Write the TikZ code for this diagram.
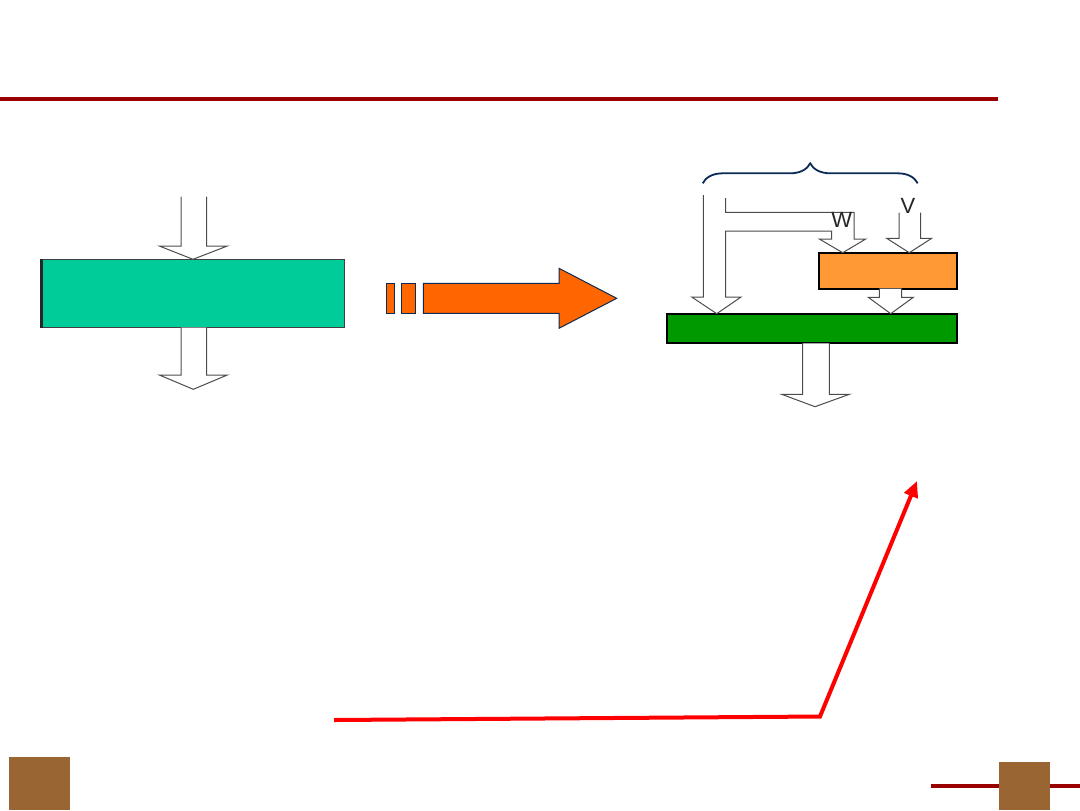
\documentclass[tikz,border=0pt]{standalone}
\usepackage{fontspec}
\setmainfont{Liberation Sans}
\usetikzlibrary{decorations.pathreplacing,arrows.meta}
\definecolor{rule}{HTML}{990000}
\definecolor{brownsq}{HTML}{996633}
\definecolor{teal}{HTML}{00CC99}
\definecolor{orangeA}{HTML}{FF6600}
\definecolor{orangeB}{HTML}{FF9933}
\definecolor{greenB}{HTML}{009900}
\definecolor{navy}{HTML}{0B2A55}
\tikzset{
  box/.style={draw=black, line width=0.9pt, inner sep=0pt, outer sep=0pt},
  blockarrow/.style={draw=black!70, fill=white, line width=0.5pt, line join=miter},
  flowarrow/.style={draw=navy, fill=orangeA, line width=0.5pt},
  lbl/.style={font=\fontsize{11pt}{12pt}\selectfont, text=black!85, inner sep=0pt}
}
\begin{document}
\begin{tikzpicture}[x=0.5pt,y=-0.5pt]
\useasboundingbox (0,0) rectangle (1080,810);
% frame decorations
\draw[rule, line width=2pt] (0,99) -- (998,99);
\draw[rule, line width=2pt] (931,785.5) -- (1080,785.5);
\fill[brownsq] (9,757) rectangle (70,810);
\fill[brownsq] (999,762) rectangle (1050,810);

% left diagram
\node[box, draw=black!75, line width=0.6pt, fill=teal, minimum width=151.3pt, minimum height=34.2pt] (teal) at (193,293.5) {};
\draw[black!85, line width=1.6pt] (teal.south west) -- (teal.north west);
\draw[blockarrow] (181,196.7) -- (181,246) -- (159.3,246) -- (teal.north) -- (227.3,246) -- (206.7,246) -- (206.7,196.7);
\coordinate (tealout) at (193.3,389.3);
\draw[blockarrow] (181,327.7) -- (181,375) -- (159.3,375) -- (tealout) -- (227.3,375) -- (206.7,375) -- (206.7,327.7);

% middle arrow
\draw[flowarrow] (386.7,283.3) rectangle (394,313.3);
\draw[flowarrow] (401.7,283.3) rectangle (415.7,313.3);
\draw[flowarrow] (423.3,283.3) -- (559,283.3) -- (559,268.3) -- (616.7,298.3) -- (559,328.3) -- (559,313.3) -- (423.3,313.3) -- cycle;

% right diagram
\node[box, fill=orangeB, minimum width=69pt, minimum height=18pt] (orng) at (888.3,270.7) {};
\node[box, fill=greenB, minimum width=145.3pt, minimum height=14.8pt] (grn) at (812,328.5) {};

\coordinate (braceL) at (702.7,183.3);
\coordinate (braceR) at (917.7,183.3);
\draw[navy, line width=0.9pt, decorate, decoration={brace, amplitude=10pt}] (braceL) -- (braceR);

% L-shaped arrow into green and W branch into orange
\coordinate (Ltip) at (716.7,313.7);
\coordinate (Wtip) at (842.7,252.7);
\draw[blockarrow] (703.3,195) -- (703.3,297) -- (691.7,297) -- (Ltip) -- (741,297) -- (725.7,297) -- (725.7,231) -- (831.7,231) -- (831.7,239) -- (819.3,239) -- (Wtip) -- (865.7,239) -- (854,239) -- (854,212.3) -- (725.7,212.3) -- (725.7,198);
% V arrow
\coordinate (Vtip) at (909.3,252.7);
\draw[blockarrow] (899,212.7) -- (899,238.3) -- (886.7,238.3) -- (Vtip) -- (931.7,238.3) -- (920.7,238.3) -- (920.7,212.7);
% orange to green
\coordinate (OGtip) at (890.7,313.7);
\draw[blockarrow] (879.3,288.7) -- (879.3,297.3) -- (868.3,297.3) -- (OGtip) -- (913.3,297.3) -- (901.7,297.3) -- (901.7,288.7);
% out of green
\coordinate (Gout) at (815,406.7);
\draw[blockarrow] (802.7,343.3) -- (802.7,394.3) -- (781.7,394.3) -- (Gout) -- (849.3,394.3) -- (829.3,394.3) -- (829.3,343.3);

\node[lbl] (W) at (841.7,220) {W};
\node[lbl] (V) at (908,205.5) {V};

% red pointer
\coordinate (rA) at (334,720);
\coordinate (rB) at (820,716.5);
\coordinate (rC) at (917,481);
\draw[red, line width=2pt, -{Triangle[length=8pt,width=7pt]}] (rA) -- (rB) -- (rC);
\end{tikzpicture}
\end{document}
